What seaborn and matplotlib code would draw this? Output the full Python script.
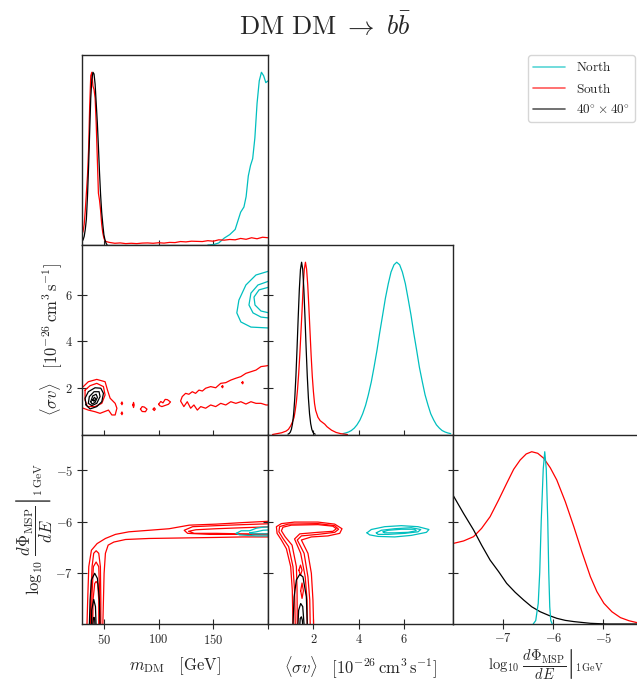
import numpy as np
import pandas as pd
import matplotlib
matplotlib.use("Agg")
import matplotlib.pyplot as plt
from matplotlib.lines import Line2D
import seaborn as sns

sns.set_style("ticks")
plt.rcParams.update({
    "mathtext.fontset": "cm",
    "font.family": ["DejaVu Serif"],
    "axes.linewidth": 1.0,
    "xtick.direction": "inout",
    "ytick.direction": "inout",
})

CYAN = (0.0, 0.75, 0.75)
RED = (1.0, 0.0, 0.0)
BLACK = (0.0, 0.0, 0.0)
LW = 0.9

title = r"$\mathrm{DM\ DM}\ \rightarrow\ b\bar{b}$"
series_names = [r"$\mathrm{North}$", r"$\mathrm{South}$", r"$40^{\circ}\times40^{\circ}$"]

# ---------------- 1D marginal: m_DM ----------------
mdm_black_x = list(range(29, 54))
mdm_black_y = [0.02, 0.02, 0.03, 0.05, 0.09, 0.15, 0.28, 0.45, 0.65, 0.85, 0.96, 1.0, 0.99,
               0.93, 0.82, 0.71, 0.57, 0.42, 0.29, 0.19, 0.12, 0.06, 0.03, 0.01, 0.0]
mdm_red_x = list(range(29, 53)) + list(range(55, 201, 5))
mdm_red_y = [0.05, 0.06, 0.08, 0.12, 0.2, 0.3, 0.4, 0.55, 0.8, 0.98, 1.0, 0.92, 0.9, 0.85,
             0.7, 0.5, 0.3, 0.26, 0.2, 0.12, 0.07, 0.04, 0.025, 0.02,
             0.015, 0.01, 0.012, 0.008, 0.01, 0.008, 0.011, 0.012, 0.01, 0.013, 0.011, 0.015,
             0.014, 0.02, 0.018, 0.022, 0.021, 0.02, 0.025, 0.022, 0.03, 0.028, 0.032, 0.03,
             0.038, 0.033, 0.042, 0.036, 0.045, 0.042]
mdm_cyan_x = [145, 150, 155, 160, 165, 170, 172, 175, 178, 180, 182, 184, 186, 188, 190, 192,
              194, 196, 198, 200, 202]
mdm_cyan_y = [0.0, 0.002, 0.012, 0.04, 0.06, 0.09, 0.13, 0.19, 0.22, 0.28, 0.40, 0.46, 0.50,
              0.62, 0.82, 0.95, 1.0, 0.98, 0.94, 0.95, 0.93]

# ---------------- 1D marginal: <sigma v> ----------------
sv_black_x = [0.88, 0.93, 0.98, 1.03, 1.08, 1.13, 1.18, 1.23, 1.28, 1.33, 1.38, 1.43, 1.48,
              1.53, 1.58, 1.63, 1.68, 1.73, 1.78, 1.83, 1.88, 1.93, 1.98, 2.03, 2.08]
sv_black_y = [0.002, 0.0054, 0.013, 0.03, 0.063, 0.12, 0.211, 0.34, 0.501, 0.678, 0.841, 0.958,
              1.0, 0.958, 0.841, 0.678, 0.501, 0.34, 0.211, 0.12, 0.063, 0.03, 0.013, 0.0054, 0.002]
sv_red_x = [0.2, 0.4, 0.6, 0.8, 0.9, 1.0, 1.1, 1.15, 1.2, 1.25, 1.3, 1.35, 1.4, 1.45, 1.5, 1.55,
            1.6, 1.65, 1.7, 1.75, 1.8, 1.85, 1.9, 1.95, 2.0, 2.05, 2.1, 2.2, 2.3, 2.4, 2.5, 2.6,
            2.8, 3.0, 3.2, 3.5]
sv_red_y = [0.0, 0.005, 0.01, 0.02, 0.03, 0.05, 0.08, 0.1, 0.14, 0.19, 0.26, 0.35, 0.46, 0.59,
            0.72, 0.86, 0.96, 1.0, 0.96, 0.87, 0.74, 0.6, 0.46, 0.34, 0.25, 0.18, 0.14, 0.1,
            0.08, 0.07, 0.06, 0.045, 0.025, 0.012, 0.005, 0.0]
sv_cyan_x = [3.3, 3.42, 3.55, 3.67, 3.8, 3.92, 4.05, 4.17, 4.3, 4.42, 4.55, 4.67, 4.8, 4.92,
             5.05, 5.17, 5.3, 5.42, 5.55, 5.67, 5.8, 5.92, 6.05, 6.17, 6.3, 6.42, 6.55, 6.67,
             6.8, 6.92, 7.05, 7.17, 7.3, 7.42, 7.55, 7.67, 7.8, 7.92, 8.05]
sv_cyan_y = [0.005, 0.009, 0.0145, 0.023, 0.037, 0.056, 0.084, 0.12, 0.17, 0.23, 0.305, 0.39,
             0.488, 0.59, 0.693, 0.79, 0.876, 0.943, 0.985, 1.0, 0.985, 0.943, 0.876, 0.79,
             0.693, 0.59, 0.488, 0.39, 0.305, 0.23, 0.17, 0.12, 0.084, 0.056, 0.037, 0.023,
             0.0145, 0.009, 0.005]

# ---------------- 1D marginal: log10 dPhi/dE ----------------
fl_red_x = [-7.99, -7.79, -7.59, -7.43, -7.26, -7.09, -6.93, -6.79, -6.66, -6.54, -6.43, -6.31,
            -6.19, -6.06, -5.93, -5.76, -5.59, -5.43, -5.26, -5.13, -4.99, -4.83, -4.66, -4.49,
            -4.33, -4.25]
fl_red_y = [0.468, 0.482, 0.507, 0.555, 0.623, 0.720, 0.816, 0.898, 0.952, 0.987, 1.0, 0.991,
            0.962, 0.907, 0.836, 0.710, 0.565, 0.420, 0.275, 0.188, 0.120, 0.071, 0.037, 0.019,
            0.008, 0.006]
fl_black_x = [-7.99, -7.79, -7.59, -7.43, -7.26, -7.09, -6.93, -6.76, -6.59, -6.43, -6.26,
              -6.09, -5.93, -5.76, -5.59, -5.26, -4.93, -4.3]
fl_black_y = [0.743, 0.642, 0.546, 0.458, 0.371, 0.304, 0.236, 0.184, 0.139, 0.100, 0.071,
              0.050, 0.033, 0.021, 0.014, 0.004, 0.0, 0.0]
fl_cyan_x = [-6.40, -6.35, -6.30, -6.27, -6.24, -6.20, -6.17, -6.14, -6.11, -6.09, -6.07, -6.05, -6.02]
fl_cyan_y = [0.0, 0.02, 0.12, 0.3, 0.6, 0.9, 1.0, 0.9, 0.6, 0.3, 0.1, 0.02, 0.0]

# ---------------- 2D: m_DM vs <sigma v> (contour lines) ----------------
d_cyan = [
    ([204, 201, 189, 179.8, 173.4, 171.5, 175.2, 184.4, 201, 204],
     [7.05, 7.03, 6.86, 6.43, 5.78, 5.23, 4.84, 4.62, 4.58, 4.58]),
    ([204, 201, 190.8, 184.4, 182.6, 186.3, 193.6, 201, 204],
     [6.62, 6.60, 6.43, 6.08, 5.57, 5.23, 5.05, 5.01, 5.0]),
    ([204, 201, 191.8, 187.2, 188.1, 193.6, 201, 204],
     [6.36, 6.34, 6.22, 5.91, 5.57, 5.31, 5.23, 5.22]),
]
d_black = [
    ([33.7, 32.8, 35.8, 41.9, 47.2, 49.6, 48.1, 43.5, 37.4],
     [1.27, 1.56, 1.84, 2.01, 1.99, 1.77, 1.41, 1.20, 1.10]),
    ([35.8, 36.7, 41.0, 45.6, 46.5, 43.5, 38.9], [1.34, 1.63, 1.84, 1.84, 1.63, 1.34, 1.24]),
    ([38.0, 39.8, 42.9, 44.1, 41.9, 39.2], [1.41, 1.66, 1.73, 1.60, 1.38, 1.31]),
    ([39.8, 41.3, 42.6, 41.0], [1.48, 1.60, 1.54, 1.43]),
]
d_red = [
    ([28, 31.2, 35.8, 43.5, 51.1, 53.3, 55.7, 60.3, 61.9, 60.3, 57.3, 54.2, 46.5, 41.9, 35.8, 31.2, 28],
     [1.95, 2.06, 2.27, 2.37, 2.27, 1.91, 1.56, 1.34, 1.13, 0.84, 0.84, 1.05, 0.91, 0.98, 1.05, 1.13, 1.15]),
    ([32.8, 37.4, 43.5, 49.6, 51.1, 48.1, 41.9, 34.9, 32.8],
     [1.91, 2.10, 2.20, 2.06, 1.70, 1.34, 1.20, 1.20, 1.48]),
    ([65.9, 66.5, 67.1, 66.5], [1.34, 1.40, 1.34, 1.28]),
    ([65.9, 66.5, 67.1, 66.5], [0.91, 0.97, 0.91, 0.85]),
    ([76.5, 77.1, 77.7, 77.1], [1.27, 1.38, 1.27, 1.16]),
    ([83.4, 85, 87, 89.4, 88, 85], [1.09, 1.2, 1.18, 1.09, 0.98, 0.99]),
    ([95, 96, 97, 96], [1.09, 1.15, 1.09, 1.03]),
    ([100, 102, 104, 106, 108, 110.9, 109, 106, 103, 101],
     [1.30, 1.42, 1.36, 1.51, 1.50, 1.40, 1.30, 1.25, 1.20, 1.24]),
    ([157.8, 158.4, 159, 158.4], [2.06, 2.11, 2.06, 2.01]),
    ([176.2, 176.8, 177.4, 176.8], [2.23, 2.28, 2.23, 2.18]),
    ([202.8, 198.2, 193.6, 189.0, 184.4, 179.8, 175.2, 170.6, 166.0, 161.4, 156.8, 152.2, 147.6,
      143.0, 140.0, 136.9, 133.8, 130.8, 127.7, 124.7, 121.6, 120.1,
      123.1, 126.2, 129.3, 132.3, 135.4, 138.5, 143.0, 147.6, 152.2, 156.8, 161.4, 166.0, 170.6,
      175.2, 179.8, 184.4, 189.0, 193.6, 198.2, 202.8],
     [2.99, 2.95, 2.92, 2.77, 2.70, 2.63, 2.49, 2.42, 2.34, 2.23, 2.20, 2.01, 2.06, 1.99, 1.87,
      1.91, 1.77, 1.84, 1.73, 1.77, 1.63, 1.44,
      1.20, 1.41, 1.13, 1.27, 1.05, 1.20, 1.13, 1.27, 1.20, 1.34, 1.27, 1.41, 1.34, 1.41, 1.31,
      1.41, 1.34, 1.34, 1.27, 1.27]),
]

# ---------------- 2D: m_DM vs log10 flux ----------------
e_red = [
    ([34.5, 35.2, 36.2, 38.6, 43.8, 51.4, 60.6, 72.9, 91.3, 109.6, 128.0, 152.5, 177.0, 204.6,
      204.6, 177.0, 152.5, 121.9, 91.3, 69.8, 59.1, 53.9, 51.4, 50.2, 49.6, 49.0],
     [-8.05, -7.53, -6.88, -6.56, -6.43, -6.33, -6.25, -6.20, -6.17, -6.14, -6.07, -6.05, -6.02,
      -5.99, -6.30, -6.30, -6.31, -6.32, -6.33, -6.35, -6.40, -6.46, -6.62, -7.01, -7.53, -8.05]),
    ([204.6, 177.0, 152.5, 131.1, 123.4, 126.5, 146.4, 177.0, 204.6],
     [-6.04, -6.06, -6.08, -6.10, -6.17, -6.23, -6.25, -6.25, -6.26]),
    ([204.6, 177.0, 152.5, 134.1, 127.4, 132.6, 152.5, 177.0, 204.6],
     [-6.10, -6.12, -6.14, -6.16, -6.19, -6.23, -6.23, -6.24, -6.24]),
    ([37.7, 38.0, 39.2, 40.7, 42.9, 45.3, 46.8, 47.2, 47.2],
     [-8.05, -7.53, -6.88, -6.62, -6.57, -6.62, -6.88, -7.53, -8.05]),
    ([38.6, 39.2, 40.4, 42.9, 45.3, 46.2, 46.2],
     [-8.05, -7.40, -6.88, -6.79, -6.88, -7.40, -8.05]),
    ([39.8, 40.1, 41.6, 42.9, 44.4, 45.3, 45.3],
     [-8.05, -7.53, -7.21, -7.17, -7.21, -7.53, -8.05]),
]
e_black = [
    ([36.7, 37.4, 38.6, 41.6, 44.1, 45.9, 46.5], [-8.05, -7.53, -7.14, -7.01, -7.11, -7.53, -8.05]),
    ([38.6, 38.9, 40.7, 42.3, 42.9], [-8.05, -7.73, -7.52, -7.66, -8.05]),
    ([39.8, 40.4, 41.0, 41.6, 41.9], [-8.05, -7.89, -7.87, -7.92, -8.05]),
]
e_cyan = [
    ([170.9, 175.5, 183.2, 189.3, 195.4, 204.6, 204.6, 189.3, 174.0],
     [-6.23, -6.18, -6.18, -6.13, -6.11, -6.10, -6.28, -6.28, -6.26]),
    ([183.2, 189.3, 195.4, 204.6, 204.6, 195.4, 186.2],
     [-6.22, -6.20, -6.17, -6.16, -6.24, -6.24, -6.24]),
]

# ---------------- 2D: <sigma v> vs log10 flux ----------------
f_cyan = [
    ([4.36, 4.55, 5.14, 5.87, 6.61, 7.09, 6.98, 6.31, 5.58, 4.85, 4.48],
     [-6.22, -6.155, -6.10, -6.08, -6.10, -6.155, -6.21, -6.27, -6.30, -6.29, -6.26]),
    ([4.77, 4.99, 5.58, 6.31, 6.73, 6.61, 6.02, 5.29, 4.85],
     [-6.22, -6.17, -6.14, -6.12, -6.155, -6.20, -6.23, -6.25, -6.25]),
    ([5.07, 5.29, 5.87, 6.46, 6.53, 6.17, 5.58, 5.14],
     [-6.20, -6.17, -6.15, -6.15, -6.18, -6.21, -6.22, -6.22]),
]
f_red = [
    ([1.10, 1.07, 1.00, 0.81, 0.59, 0.40, 0.37, 0.59, 1.17, 2.20, 2.94, 3.26, 3.16, 2.64, 1.91,
      1.47, 1.76, 1.91, 1.98, 2.01],
     [-8.02, -7.34, -6.88, -6.53, -6.36, -6.23, -6.10, -6.04, -6.01, -6.01, -6.05, -6.14, -6.23,
      -6.28, -6.30, -6.36, -6.62, -7.01, -7.53, -8.02]),
    ([1.20, 1.17, 1.10, 0.91, 0.66, 0.48, 0.51, 0.88, 2.20, 2.94, 3.11, 2.94, 2.20, 1.47, 1.29,
      1.59, 1.76, 1.84, 1.86],
     [-8.02, -7.34, -6.88, -6.49, -6.33, -6.20, -6.10, -6.05, -6.04, -6.08, -6.15, -6.21, -6.25,
      -6.28, -6.36, -6.62, -7.08, -7.53, -8.02]),
    ([1.29, 1.28, 1.25, 1.06, 0.76, 0.59, 0.66, 1.03, 2.20, 2.86, 3.01, 2.86, 2.20, 1.40, 1.17,
      1.44, 1.64, 1.72, 1.73],
     [-8.02, -7.34, -6.88, -6.46, -6.30, -6.18, -6.11, -6.07, -6.06, -6.09, -6.14, -6.19, -6.21,
      -6.24, -6.34, -6.62, -7.08, -7.53, -8.02]),
    ([1.36, 1.43, 1.50, 1.43], [-6.95, -6.85, -6.95, -7.05]),
    ([1.44, 1.50, 1.56, 1.50], [-7.35, -7.20, -7.35, -7.50]),
]
f_black = [
    ([1.10, 1.15, 1.25, 1.40, 1.54, 1.69, 1.73], [-8.02, -7.47, -7.14, -7.03, -7.08, -7.47, -8.02]),
    ([1.32, 1.35, 1.44, 1.53, 1.59], [-8.02, -7.73, -7.60, -7.66, -8.02]),
    ([1.40, 1.42, 1.47, 1.51, 1.53], [-8.02, -7.89, -7.86, -7.92, -8.02]),
]

# ---------------- axes limits / ticks ----------------
mdm_lim = (30, 200)
sv_lim = (0, 8.15)
fl_lim = (-8, -4.3)
dens_lim = (0, 1.1)
mdm_ticks = [50, 100, 150, 200]
mdm_ticklabels = [r"$50$", r"$100$", r"$150$", ""]
sv_ticks = [2, 4, 6]
sv_ticklabels = [r"$2$", r"$4$", r"$6$"]
fl_ticks = [-7, -6, -5]
fl_ticklabels = [r"$-7$", r"$-6$", r"$-5$"]

mdm_label = r"$m_{\rm DM}\quad[{\rm GeV}]$"
sv_label = r"$\langle\sigma v\rangle\quad[10^{-26}\,{\rm cm}^3\,{\rm s}^{-1}]$"
fl_label = r"$\log_{10}\,\left.\dfrac{d\Phi_{\rm MSP}}{dE}\right|_{1\,{\rm GeV}}$"

W, H = 637, 683
fig = plt.figure(figsize=(W / 100, H / 100), dpi=100)


def mkax(l, t, r, b):
    return fig.add_axes([l / W, 1 - b / H, (r - l) / W, (b - t) / H])


def line(ax, xs, ys, color, closed=False):
    xs = list(xs)
    ys = list(ys)
    if closed:
        xs.append(xs[0])
        ys.append(ys[0])
    df = pd.DataFrame({"x": xs, "y": ys})
    sns.lineplot(data=df, x="x", y="y", ax=ax, sort=False, estimator=None,
                 color=color, lw=LW)


def style(ax):
    ax.tick_params(direction="inout", length=7, width=0.8, labelsize=9,
                   top=False, right=False, pad=3)
    ax.set_xlabel("")
    ax.set_ylabel("")


axA = mkax(82, 55, 268, 245)
axD = mkax(82, 245, 268, 434.5)
axB = mkax(268, 245, 453, 434.5)
axE = mkax(82, 434.5, 268, 624)
axF = mkax(268, 434.5, 453, 624)
axC = mkax(453, 434.5, 638.5, 624)

# A: m_DM marginal
line(axA, mdm_cyan_x, mdm_cyan_y, CYAN)
line(axA, mdm_red_x, mdm_red_y, RED)
line(axA, mdm_black_x, mdm_black_y, BLACK)
axA.set_xlim(*mdm_lim); axA.set_ylim(*dens_lim)
style(axA)
axA.set_xticks(mdm_ticks); axA.set_xticklabels([])
axA.set_yticks([])

# B: sigma v marginal
line(axB, sv_cyan_x, sv_cyan_y, CYAN)
line(axB, sv_red_x, sv_red_y, RED)
line(axB, sv_black_x, sv_black_y, BLACK)
axB.set_xlim(*sv_lim); axB.set_ylim(*dens_lim)
style(axB)
axB.set_xticks(sv_ticks); axB.set_xticklabels([])
axB.set_yticks([t / sv_lim[1] * dens_lim[1] for t in sv_ticks]); axB.set_yticklabels([])

# C: flux marginal
line(axC, fl_red_x, fl_red_y, RED)
line(axC, fl_black_x, fl_black_y, BLACK)
line(axC, fl_cyan_x, fl_cyan_y, CYAN)
axC.set_xlim(*fl_lim); axC.set_ylim(*dens_lim)
style(axC)
axC.tick_params(axis="x", pad=2)
axC.set_xticks(fl_ticks); axC.set_xticklabels(fl_ticklabels)
axC.set_yticks([(t - fl_lim[0]) / (fl_lim[1] - fl_lim[0]) * dens_lim[1] for t in fl_ticks])
axC.set_yticklabels([])
axC.set_xlabel(fl_label, fontsize=10.5, labelpad=1)

# D: m_DM vs sigma v
for xs, ys in d_cyan:
    line(axD, xs, ys, CYAN, closed=True)
for xs, ys in d_red:
    line(axD, xs, ys, RED, closed=True)
for xs, ys in d_black:
    line(axD, xs, ys, BLACK, closed=True)
axD.set_xlim(*mdm_lim); axD.set_ylim(*sv_lim)
style(axD)
axD.set_xticks(mdm_ticks); axD.set_xticklabels([])
axD.set_yticks(sv_ticks); axD.set_yticklabels(sv_ticklabels)
axD.set_ylabel(sv_label, fontsize=12, labelpad=1)

# E: m_DM vs flux
for xs, ys in e_red:
    line(axE, xs, ys, RED, closed=True)
for xs, ys in e_cyan:
    line(axE, xs, ys, CYAN, closed=True)
for xs, ys in e_black:
    line(axE, xs, ys, BLACK, closed=True)
axE.set_xlim(*mdm_lim); axE.set_ylim(*fl_lim)
style(axE)
axE.set_xticks(mdm_ticks); axE.set_xticklabels(mdm_ticklabels)
axE.set_yticks(fl_ticks); axE.set_yticklabels(fl_ticklabels)
axE.set_xlabel(mdm_label, fontsize=12, labelpad=6)
axE.set_ylabel(fl_label, fontsize=12, labelpad=1)

# F: sigma v vs flux
for xs, ys in f_cyan:
    line(axF, xs, ys, CYAN, closed=True)
for xs, ys in f_red:
    line(axF, xs, ys, RED, closed=True)
for xs, ys in f_black:
    line(axF, xs, ys, BLACK, closed=True)
axF.set_xlim(*sv_lim); axF.set_ylim(*fl_lim)
style(axF)
axF.set_xticks(sv_ticks); axF.set_xticklabels(sv_ticklabels)
axF.set_yticks(fl_ticks); axF.set_yticklabels([])
axF.set_xlabel(sv_label, fontsize=12, labelpad=6)

fig.text(325 / W, 1 - 26 / H, title, ha="center", va="center", fontsize=19)

handles = [Line2D([], [], color=c, lw=1.2, alpha=0.65) for c in (CYAN, RED, BLACK)]
fig.legend(handles, series_names, loc="upper left", bbox_to_anchor=(528 / W, 1 - 55 / H),
           fontsize=9.5, frameon=True, edgecolor="#cccccc", borderaxespad=0,
           handlelength=2.4, labelspacing=0.55)

fig.savefig("out.png", dpi=100)
